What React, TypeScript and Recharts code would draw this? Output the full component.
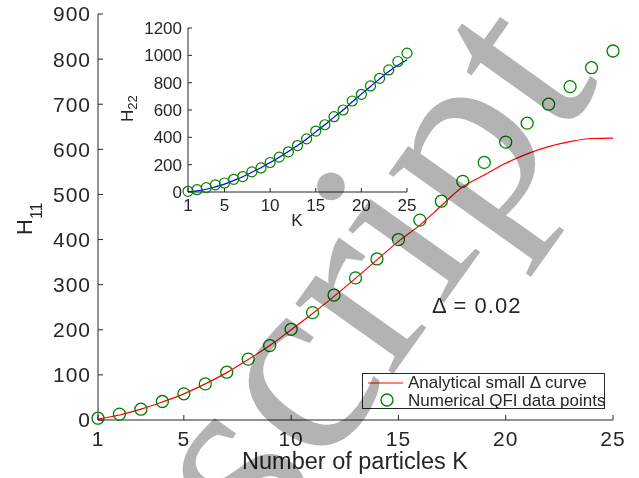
import React from "react";
import { LineChart, Line, XAxis, YAxis, Legend } from "recharts";

const K = [1, 2, 3, 4, 5, 6, 7, 8, 9, 10, 11, 12, 13, 14, 15, 16, 17, 18, 19, 20, 21, 22, 23, 24, 25];
const analytical = [2, 11, 24, 40, 58, 80, 105, 134, 165, 200, 236, 274, 314, 355, 396, 432, 475, 517, 543, 569, 590, 606, 617, 624, 625];
const numerical = [4, 13, 24, 41, 58, 80, 106, 135, 165, 201, 238, 277, 315, 357, 400, 443, 485, 529, 571, 616, 658, 700, 739, 781, 818];
const insetCurve = [2, 8, 20, 38, 58, 84, 112, 145, 178, 216, 255, 296, 340, 388, 440, 492, 548, 600, 660, 716, 772, 828, 882, 928, 968];
const insetPoints = [5, 17, 32, 52, 66, 93, 113, 147, 176, 216, 255, 294, 340, 389, 446, 492, 551, 600, 666, 715, 776, 832, 893, 955, 1016];

const kTicks = [1, 5, 10, 15, 20, 25];
const h11Ticks = [0, 100, 200, 300, 400, 500, 600, 700, 800, 900];
const h22Ticks = [0, 200, 400, 600, 800, 1000, 1200];

const mainData = K.map((k, i) => ({ k, analytical: analytical[i], numerical: numerical[i] }));
const insetData = K.map((k, i) => ({ k, curve: insetCurve[i], points: insetPoints[i] }));

const AX = "#262626";
const GREEN = "#008000";
const FONT = "'Liberation Sans', Arial, sans-serif";

function LegendBox() {
  return (
    <svg width={243} height={36} style={{ display: "block" }}>
      <rect x={0.5} y={0.5} width={242} height={35} fill="#fff" stroke={AX} />
      <line x1={6} x2={41} y1={10} y2={10} stroke="#ff0000" strokeWidth={1.2} />
      <text x={46} y={15} fontSize={17} fill={AX} fontFamily={FONT}>
        Analytical small Δ curve
      </text>
      <circle cx={25} cy={27} r={6} fill="none" stroke={GREEN} strokeWidth={1.3} />
      <text x={46} y={33} fontSize={17} fill={AX} fontFamily={FONT}>
        Numerical QFI data points
      </text>
    </svg>
  );
}

export default function App() {
  const tickStyle = { fontSize: 21, fill: AX, fontFamily: FONT, letterSpacing: 1 };
  const insetTick = { fontSize: 17, fill: AX, fontFamily: FONT };
  return (
    <div
      style={{
        position: "absolute",
        left: 0,
        top: 0,
        width: 639,
        height: 478,
        background: "#fff",
        isolation: "isolate",
        overflow: "hidden",
      }}
    >
      {/* main plot */}
      <div style={{ position: "absolute", left: 0, top: 0 }}>
        <LineChart width={639} height={478} data={mainData} margin={{ top: 14, right: 26, bottom: 28, left: 38 }}>
          <XAxis
            xAxisId="b"
            dataKey="k"
            type="number"
            domain={[1, 25]}
            ticks={kTicks}
            interval={0}
            height={30}
            tickSize={-5}
            tickMargin={16}
            axisLine={{ stroke: AX }}
            tickLine={{ stroke: AX }}
            tick={tickStyle}
          />
          <XAxis
            xAxisId="t"
            orientation="top"
            dataKey="k"
            type="number"
            domain={[1, 25]}
            ticks={kTicks}
            interval={0}
            height={0}
            tickSize={-5}
            axisLine={{ stroke: AX }}
            tickLine={{ stroke: AX }}
            tick={false}
          />
          <YAxis
            yAxisId="l"
            type="number"
            domain={[0, 900]}
            ticks={h11Ticks}
            interval={0}
            width={60}
            tickSize={-5}
            tickMargin={12}
            axisLine={{ stroke: AX }}
            tickLine={{ stroke: AX }}
            tick={tickStyle}
          />
          <YAxis
            yAxisId="r"
            orientation="right"
            type="number"
            domain={[0, 900]}
            ticks={h11Ticks}
            interval={0}
            width={0}
            tickSize={-5}
            axisLine={{ stroke: AX }}
            tickLine={{ stroke: AX }}
            tick={false}
          />
          <Legend
            layout="vertical"
            align="center"
            verticalAlign="middle"
            content={() => <LegendBox />}
            wrapperStyle={{ left: 362, top: 373, width: 243, height: 36 }}
          />
          <Line
            xAxisId="b"
            yAxisId="l"
            type="monotone"
            dataKey="analytical"
            name="Analytical small Δ curve"
            stroke="#ff0000"
            strokeWidth={1.2}
            dot={false}
            activeDot={false}
            isAnimationActive={false}
          />
          <Line
            xAxisId="b"
            yAxisId="l"
            dataKey="numerical"
            name="Numerical QFI data points"
            stroke="none"
            dot={{ r: 6, stroke: GREEN, strokeWidth: 1.3, fill: "none" }}
            activeDot={false}
            isAnimationActive={false}
          />
        </LineChart>
      </div>

      {/* inset */}
      <div style={{ position: "absolute", left: 140, top: 15 }}>
        <LineChart width={280} height={200} data={insetData} margin={{ top: 13, right: 13, bottom: 3, left: 4 }}>
          <XAxis
            xAxisId="b"
            dataKey="k"
            type="number"
            domain={[1, 25]}
            ticks={kTicks}
            interval={0}
            height={20}
            tickSize={-4}
            tickMargin={11}
            axisLine={{ stroke: AX }}
            tickLine={{ stroke: AX }}
            tick={insetTick}
          />
          <XAxis
            xAxisId="t"
            orientation="top"
            dataKey="k"
            type="number"
            domain={[1, 25]}
            ticks={kTicks}
            interval={0}
            height={0}
            tickSize={-4}
            axisLine={{ stroke: AX }}
            tickLine={{ stroke: AX }}
            tick={false}
          />
          <YAxis
            yAxisId="l"
            type="number"
            domain={[0, 1200]}
            ticks={h22Ticks}
            interval={0}
            width={44}
            tickSize={-4}
            tickMargin={10}
            axisLine={{ stroke: AX }}
            tickLine={{ stroke: AX }}
            tick={insetTick}
          />
          <YAxis
            yAxisId="r"
            orientation="right"
            type="number"
            domain={[0, 1200]}
            ticks={h22Ticks}
            interval={0}
            width={0}
            tickSize={-4}
            axisLine={{ stroke: AX }}
            tickLine={{ stroke: AX }}
            tick={false}
          />
          <Line
            xAxisId="b"
            yAxisId="l"
            type="monotone"
            dataKey="curve"
            stroke="#0000ff"
            strokeWidth={1.2}
            dot={false}
            activeDot={false}
            isAnimationActive={false}
          />
          <Line
            xAxisId="b"
            yAxisId="l"
            dataKey="points"
            stroke="none"
            dot={{ r: 5, stroke: GREEN, strokeWidth: 1.2, fill: "none" }}
            activeDot={false}
            isAnimationActive={false}
          />
        </LineChart>
      </div>

      {/* axis titles and annotation */}
      <svg
        width={639}
        height={478}
        style={{ position: "absolute", left: 0, top: 0, pointerEvents: "none" }}
        fontFamily={FONT}
        fill={AX}
      >
        <text x={355} y={469} fontSize={23.5} textAnchor="middle">
          Number of particles K
        </text>
        <text transform="rotate(-90)" x={-235} y={32} fontSize={22}>
          H
          <tspan dy={10} fontSize={16}>
            11
          </tspan>
        </text>
        <text x={297} y={226} fontSize={17} textAnchor="middle">
          K
        </text>
        <text transform="rotate(-90)" x={-122} y={133} fontSize={17}>
          H
          <tspan dy={4} fontSize={13}>
            22
          </tspan>
        </text>
        <text x={432} y={313} fontSize={22} letterSpacing={1}>
          Δ = 0.02
        </text>
      </svg>

      {/* watermark */}
      <svg
        width={639}
        height={478}
        style={{ position: "absolute", left: 0, top: 0, pointerEvents: "none", mixBlendMode: "multiply" }}
      >
        <text
          x={263.4}
          y={555.9}
          transform="rotate(-54.5 263.4 555.9)"
          fontFamily="'Liberation Serif', serif"
          fontSize={262}
          fill="#b3b3b3"
        >
          script
        </text>
      </svg>
    </div>
  );
}
